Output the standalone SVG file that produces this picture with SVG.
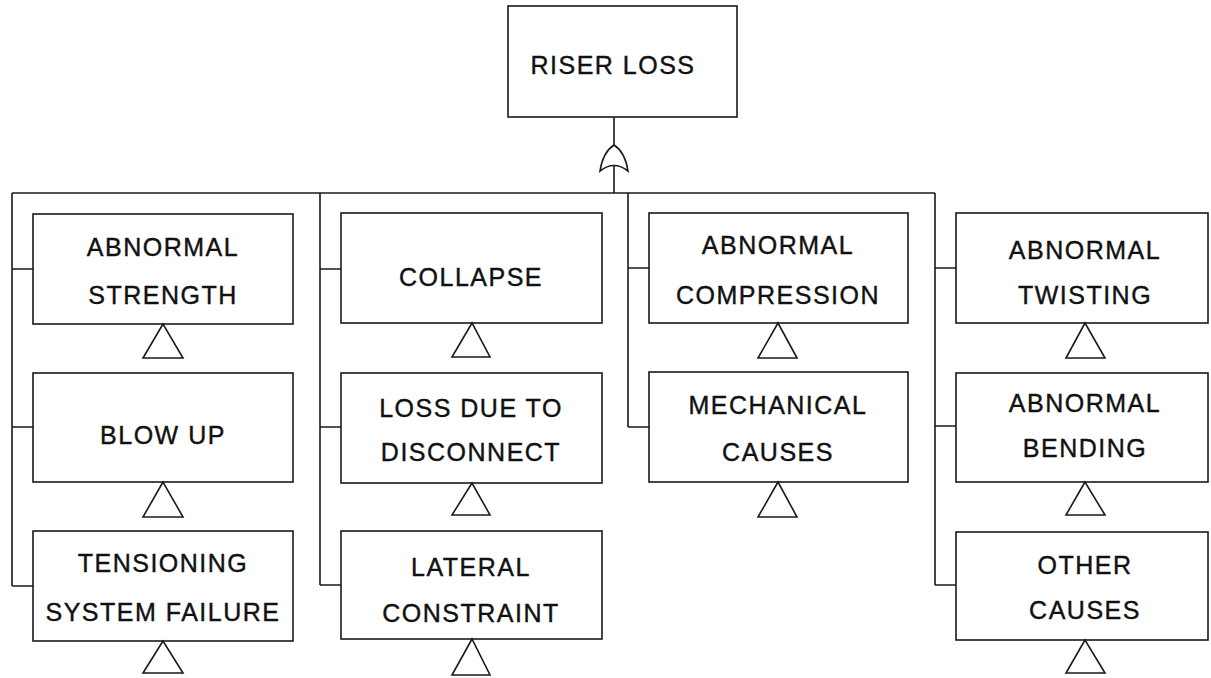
<svg xmlns="http://www.w3.org/2000/svg" width="1211" height="678" viewBox="0 0 1211 678">
<style>
.box{fill:#fff;stroke:#1a1a1a;stroke-width:1.6}
.ln{fill:none;stroke:#1a1a1a;stroke-width:1.6}
.tri{fill:#fff;stroke:#1a1a1a;stroke-width:1.6;stroke-linejoin:miter}
text{font-family:"Liberation Sans",Arial,sans-serif;font-size:25px;letter-spacing:1.5px;fill:#111;stroke:#111;stroke-width:0.4;text-anchor:middle}
</style>
<rect width="1211" height="678" fill="#fff"/>
<g id="connectors">
<path class="ln" d="M614,117 V146"/>
<path class="ln" d="M614,166 V193"/>
<path class="ln" d="M12,193 H935"/>
<path class="ln" d="M12,193 V586 M12,269 H33 M12,427 H33 M12,586 H33"/>
<path class="ln" d="M320,193 V585 M320,269 H341 M320,427 H341 M320,585 H341"/>
<path class="ln" d="M628,193 V427 M628,268 H649 M628,427 H649"/>
<path class="ln" d="M935,193 V585 M935,268 H956 M935,426 H956 M935,585 H956"/>
</g>
<g id="gate">
<path class="ln" d="M614,145 Q603,152 600,171 Q614,160 628,171 Q625,152 614,145 Z"/>
</g>
<g id="riser-loss">
<rect class="box" x="508" y="6" width="229" height="111"/>
<text x="613" y="74">RISER LOSS</text>
</g>
<g id="abnormal-strength">
<rect class="box" x="33" y="214" width="260" height="110"/>
<text x="163" y="256">ABNORMAL</text><text x="163" y="304">STRENGTH</text>
<path class="tri" d="M163,324 L143,358 H183 Z"/>
</g>
<g id="blow-up">
<rect class="box" x="33" y="373" width="260" height="109"/>
<text x="163" y="444">BLOW UP</text>
<path class="tri" d="M163,482 L143,517 H183 Z"/>
</g>
<g id="tensioning">
<rect class="box" x="33" y="531" width="260" height="110"/>
<text x="163" y="572">TENSIONING</text><text x="163" y="621">SYSTEM FAILURE</text>
<path class="tri" d="M163,641 L143,673 H183 Z"/>
</g>
<g id="collapse">
<rect class="box" x="341" y="213" width="261" height="110"/>
<text x="471" y="286">COLLAPSE</text>
<path class="tri" d="M472,323 L452,357 H490 Z"/>
</g>
<g id="loss-disconnect">
<rect class="box" x="341" y="373" width="261" height="110"/>
<text x="471" y="417">LOSS DUE TO</text><text x="471" y="461">DISCONNECT</text>
<path class="tri" d="M472,483 L452,515 H490 Z"/>
</g>
<g id="lateral">
<rect class="box" x="341" y="531" width="261" height="108"/>
<text x="471" y="576">LATERAL</text><text x="471" y="622">CONSTRAINT</text>
<path class="tri" d="M472,639 L452,675 H490 Z"/>
</g>
<g id="abnormal-compression">
<rect class="box" x="649" y="213" width="259" height="110"/>
<text x="778" y="254">ABNORMAL</text><text x="778" y="304">COMPRESSION</text>
<path class="tri" d="M778,323 L758,358 H797 Z"/>
</g>
<g id="mechanical">
<rect class="box" x="649" y="372" width="259" height="110"/>
<text x="778" y="414">MECHANICAL</text><text x="778" y="461">CAUSES</text>
<path class="tri" d="M778,482 L758,517 H797 Z"/>
</g>
<g id="abnormal-twisting">
<rect class="box" x="956" y="213" width="252" height="110"/>
<text x="1085" y="259">ABNORMAL</text><text x="1085" y="304">TWISTING</text>
<path class="tri" d="M1085,323 L1066,358 H1105 Z"/>
</g>
<g id="abnormal-bending">
<rect class="box" x="956" y="373" width="252" height="109"/>
<text x="1085" y="412">ABNORMAL</text><text x="1085" y="457">BENDING</text>
<path class="tri" d="M1085,482 L1066,515 H1105 Z"/>
</g>
<g id="other-causes">
<rect class="box" x="956" y="532" width="252" height="108"/>
<text x="1085" y="574">OTHER</text><text x="1085" y="619">CAUSES</text>
<path class="tri" d="M1085,640 L1066,673 H1105 Z"/>
</g>
</svg>
